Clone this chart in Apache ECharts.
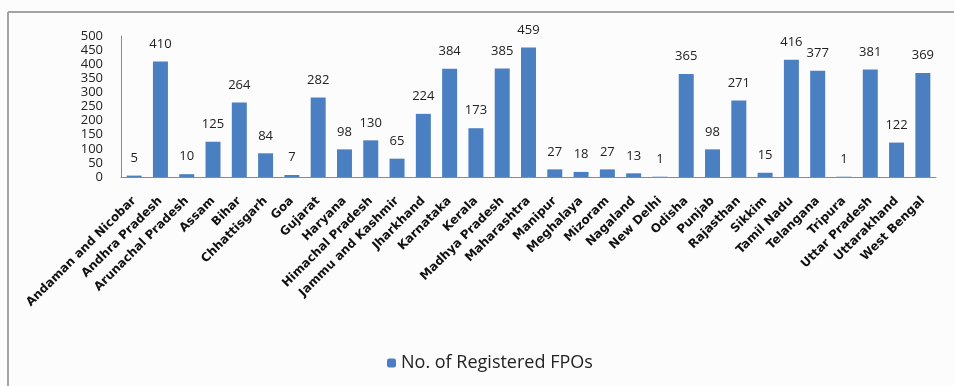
<!DOCTYPE html>
<html>
<head>
<meta charset="utf-8">
<script src="https://cdn.jsdelivr.net/npm/echarts@6/dist/echarts.min.js"></script>
<style>
  html, body { margin: 0; padding: 0; background: #fcfcfc; }
  #chart { width: 954px; height: 386px; }
</style>
</head>
<body>
<div id="chart"></div>
<script>
const states = [
  "Andaman and Nicobar", "Andhra Pradesh", "Arunachal Pradesh", "Assam", "Bihar",
  "Chhattisgarh", "Goa", "Gujarat", "Haryana", "Himachal Pradesh",
  "Jammu and Kashmir", "Jharkhand", "Karnataka", "Kerala", "Madhya Pradesh",
  "Maharashtra", "Manipur", "Meghalaya", "Mizoram", "Nagaland",
  "New Delhi", "Odisha", "Punjab", "Rajasthan", "Sikkim",
  "Tamil Nadu", "Telangana", "Tripura", "Uttar Pradesh", "Uttarakhand",
  "West Bengal"
];
const fpoCounts = [
  5, 410, 10, 125, 264,
  84, 7, 282, 98, 130,
  65, 224, 384, 173, 385,
  459, 27, 18, 27, 13,
  1, 365, 98, 271, 15,
  416, 377, 1, 381, 122,
  369
];
const seriesName = "No. of Registered FPOs";

const chart = echarts.init(document.getElementById("chart"));

chart.setOption({
  backgroundColor: "#fcfcfc",
  animation: false,
  textStyle: { fontFamily: "DejaVu Sans" },
  grid: { left: 121, right: 18, top: 36, bottom: 209 },
  legend: {
    data: [seriesName],
    left: 382,
    top: 349,
    itemWidth: 9,
    itemHeight: 9,
    itemGap: 5,
    textStyle: { fontSize: 18, color: "#222", fontFamily: "Open Sans" }
  },
  xAxis: {
    type: "category",
    data: states,
    axisLine: { lineStyle: { color: "#8a8a8a", width: 1 } },
    axisTick: { show: false },
    axisLabel: {
      interval: 0,
      rotate: 45,
      margin: 22,
      fontSize: 12,
      fontWeight: "bold",
      color: "#111"
    }
  },
  yAxis: {
    type: "value",
    min: 0,
    max: 500,
    interval: 50,
    axisLine: { show: true, lineStyle: { color: "#8a8a8a", width: 1 } },
    axisTick: { show: false },
    splitLine: { show: false },
    axisLabel: { margin: 18, fontSize: 13, color: "#222", fontFamily: "Open Sans" }
  },
  series: [
    {
      name: seriesName,
      type: "bar",
      data: fpoCounts,
      barWidth: "57%",
      itemStyle: { color: "#4a7fc1" },
      label: {
        show: true,
        position: "top",
        distance: 11,
        fontSize: 13,
        color: "#222",
        fontFamily: "Open Sans"
      }
    }
  ],
  graphic: [
    {
      type: "line",
      shape: { x1: 8, y1: 12, x2: 954, y2: 12 },
      style: { stroke: "#a3a3a3", lineWidth: 2 }
    },
    {
      type: "line",
      shape: { x1: 8, y1: 12, x2: 8, y2: 386 },
      style: { stroke: "#a3a3a3", lineWidth: 2 }
    }
  ]
});
</script>
</body>
</html>
